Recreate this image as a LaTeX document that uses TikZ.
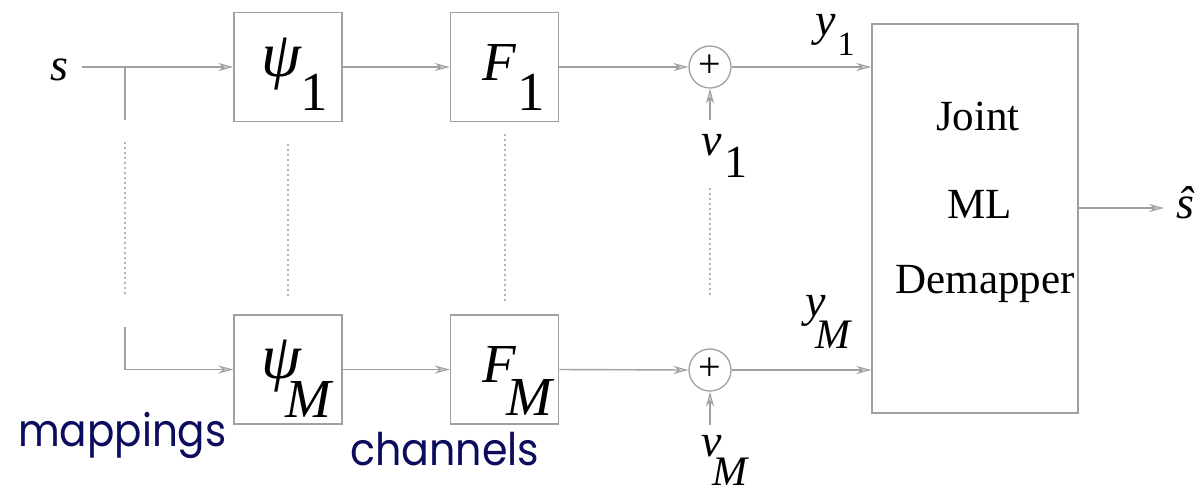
\documentclass[tikz,border=0pt]{standalone}
\usepackage{fontspec}
\setmainfont{Liberation Serif}
\newfontfamily\geofont{Poppins}
\usetikzlibrary{arrows.meta}
\definecolor{ln}{RGB}{160,160,160}
\definecolor{navy}{RGB}{12,12,94}
\begin{document}
\begin{tikzpicture}[x=1pt,y=-1pt,
  blk/.style={draw=ln,line width=1.5pt,inner sep=0pt,minimum width=108pt,minimum height=109pt},
  con/.style={draw=ln,line width=1.4pt},
  arr/.style={con,-{Stealth[length=15pt,width=8pt,inset=5pt,line width=1pt,fill=ln!50]}},
  dots/.style={draw=ln!80,line width=1.4pt,dash pattern=on 1.6pt off 3.4pt},
  sumc/.style={draw=ln,line width=1.3pt,circle,minimum size=42pt,inner sep=0pt,font=\fontsize{40}{40}\selectfont},
  big/.style={inner sep=0pt,anchor=base west,font=\fontsize{55}{60}\selectfont\itshape},
  mid/.style={inner sep=0pt,anchor=base west,font=\fontsize{46}{50}\selectfont\itshape},
  word/.style={inner sep=0pt,anchor=base,font=\fontsize{43}{48}\selectfont},
  note/.style={inner sep=0pt,anchor=base west,text=navy,font=\geofont\fontsize{45}{50}\selectfont}]
\useasboundingbox (0,0) rectangle (1195,491);

% blocks
\node[blk] (p1) at (288,67) {};
\node[blk] (pM) at (288,369.5) {};
\node[blk] (f1) at (504.5,67) {};
\node[blk] (fM) at (504.5,369.5) {};
\node[sumc] (a1) at (710,67) {\raisebox{2pt}{+}};
\node[sumc] (aM) at (710,370) {\raisebox{2pt}{+}};
\node[draw=ln,line width=1.5pt,inner sep=0pt,minimum width=206pt,minimum height=389pt] (J) at (975,218.5) {};

% labels in blocks
\node[big] (p1t) at (261,76) {{\fontsize{64}{64}\selectfont ψ}\kern0pt\raisebox{-34pt}{\upshape 1}};
\node[big] (pMt) at (261,378) {{\fontsize{64}{64}\selectfont ψ}\kern-15pt\raisebox{-39pt}{M}};
\node[big] (f1t) at (482,80) {F\kern2pt\raisebox{-30pt}{\upshape 1}};
\node[big] (fMt) at (482,382) {F\kern-9pt\raisebox{-33pt}{M}};

\node[word] (j1) at (978,130) {Joint};
\node[word] (j2) at (980,218) {ML};
\node[word] (j3) at (985,293) {Demapper};

% signal labels
\node[mid] (s) at (50,80) {s};
\node[mid] (sh) at (1176,218) {ŝ};
\node[mid] (v1) at (701,155) {ν\kern3pt\raisebox{-22pt}{\upshape 1}};
\node[mid] (vM) at (701,456) {ν\kern-9pt\raisebox{-29pt}{\fontsize{42}{42}\selectfont M}};
\node[mid] (y1) at (815,35) {y\kern2pt\raisebox{-20pt}{\upshape\fontsize{34}{34}\selectfont 1}};
\node[mid] (yM) at (805,316) {y\kern-10pt\raisebox{-32pt}{\fontsize{42}{42}\selectfont M}};

% branch points
\coordinate (sin) at (82,67);
\coordinate (br) at (125,67);
\coordinate (brd) at (125,120);
\coordinate (brb) at (125,327);
\coordinate (brc) at (125,369.5);
\coordinate (n1) at (710,120);
\coordinate (nM) at (710,425);
\coordinate (out) at (1164,208);

% connectors
\draw[arr] (sin) -- (p1.west);
\draw[con] (br) -- (brd);
\draw[arr] (brb) -- (brc) -- (pM.west);
\draw[arr] (p1.east) -- (f1.west);
\draw[arr] (pM.east) -- (fM.west);
\draw[arr] (f1.east) -- (a1.west);
\draw[arr] (fM.east) -- (aM.west);
\draw[arr] (a1.east) -- (a1.east -| J.west);
\draw[arr] (aM.east) -- (aM.east -| J.west);
\draw[arr] (n1) -- (a1.south);
\draw[arr] (nM) -- (aM.south);
\draw[arr] (J.east |- out) -- (out);

% dotted continuation lines
\coordinate (d1a) at (125,142); \coordinate (d1b) at (125,296);
\coordinate (d2a) at (288,144); \coordinate (d2b) at (288,296);
\coordinate (d3a) at (505,134); \coordinate (d3b) at (505,302);
\coordinate (d4a) at (710,188); \coordinate (d4b) at (710,296);
\draw[dots] (d1a) -- (d1b);
\draw[dots] (d2a) -- (d2b);
\draw[dots] (d3a) -- (d3b);
\draw[dots] (d4a) -- (d4b);

% annotations
\node[note] (mp) at (18,446) {\scalebox{0.9}[1]{mappings}};
\node[note] (ch) at (350,465) {\scalebox{0.915}[1]{channels}};
\end{tikzpicture}
\end{document}
